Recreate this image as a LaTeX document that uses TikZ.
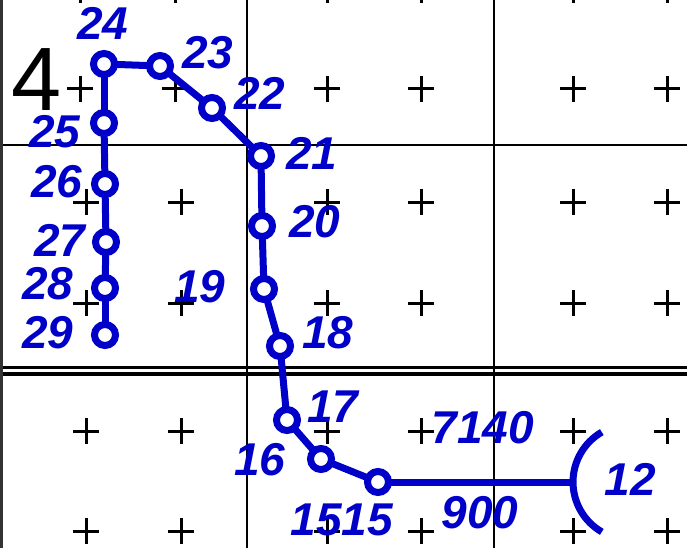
\documentclass[tikz,border=0pt]{standalone}
\usepackage{fontspec}
\setmainfont{Liberation Sans}
\definecolor{route}{HTML}{0000C8}
\definecolor{ink}{HTML}{000000}

\begin{document}
\begin{tikzpicture}[
    x=1pt, y=-1pt,
    stn/.style={circle, draw=route, fill=white, line width=7pt, minimum size=21pt,
                inner sep=0pt, outer sep=0pt},
    lab/.style={text=route, inner sep=0pt, font=\fontsize{46}{46}\selectfont\bfseries\itshape},
    leg/.style={draw=route, line width=7pt},
    plusmark/.style={line width=3pt, color=ink},
    gline/.style={line width=1.6pt, color=ink}
  ]
\useasboundingbox (0,0) rectangle (687,548);

% ---------------- sheet grid ----------------
\draw[gline] (0,145) -- (687,145);
\draw[gline, line width=3.5pt] (0,367.5) -- (687,367.5) (0,374) -- (687,374);
\draw[gline] (247,0) -- (247,548) (494,0) -- (494,548);
\draw[gline, line width=3pt, color=ink!80] (1.5,0) -- (1.5,548);

% ---------------- crosses ----------------
\foreach \y in {-10,89}
  \foreach \x in {80,175,327,421,573,667}
    \draw[plusmark] (\x-13,\y) -- (\x+13,\y) (\x,\y-13) -- (\x,\y+13);
\foreach \y in {202,303,431,531}
  \foreach \x in {86,181,327,421,573,667}
    \draw[plusmark] (\x-13,\y) -- (\x+13,\y) (\x,\y-13) -- (\x,\y+13);

% ---------------- sheet number ----------------
\node[font=\fontsize{90}{90}\selectfont, text=ink, inner sep=0pt] (sheet) at (37,80) {4};

% ---------------- stations ----------------
\node[stn] (p29) at (105,335) {};
\node[stn] (p28) at (105,288) {};
\node[stn] (p27) at (106,242) {};
\node[stn] (p26) at (105,184) {};
\node[stn] (p25) at (104,123) {};
\node[stn] (p24) at (104,64) {};
\node[stn] (p23) at (160,66) {};
\node[stn] (p22) at (212,108) {};
\node[stn] (p21) at (261,156) {};
\node[stn] (p20) at (262,226) {};
\node[stn] (p19) at (264,289) {};
\node[stn] (p18) at (280,346) {};
\node[stn] (p17) at (287,420) {};
\node[stn] (p16) at (321,459) {};
\node[stn] (p15) at (378,482) {};
\coordinate (b12) at (573,482);

% ---------------- route ----------------
\foreach \a/\b in {29/28,28/27,27/26,26/25,25/24,24/23,23/22,22/21,21/20,20/19,19/18,18/17,17/16,16/15}
  \draw[leg] (p\a) -- (p\b);
\draw[leg] (p15) -- (b12);
\draw[leg] (b12) arc[start angle=180, end angle=120, radius=57.6]
           (b12) arc[start angle=180, end angle=240, radius=57.6];

% ---------------- labels ----------------
\node[lab] (l24) at (103,23) {24};
\node[lab] (l23) at (208,53) {23};
\node[lab] (l22) at (260,93) {22};
\node[lab] (l21) at (312,153) {21};
\node[lab] (l25) at (55,132) {25};
\node[lab] (l26) at (57,182) {26};
\node[lab] (l27) at (60,240) {27};
\node[lab] (l28) at (48,284) {28};
\node[lab] (l29) at (48,333) {29};
\node[lab] (l20) at (315,222) {20};
\node[lab] (l19) at (200,287) {19};
\node[lab] (l18) at (328,333) {18};
\node[lab] (l17) at (333,407) {17};
\node[lab] (l16) at (260,460) {16};
\node[lab] (l15) at (342,520) {1515};
\node[lab] (l71) at (483,428) {7140};
\node[lab] (l90) at (480,513) {900};
\node[lab] (l12) at (630,479) {12};

\end{tikzpicture}
\end{document}
